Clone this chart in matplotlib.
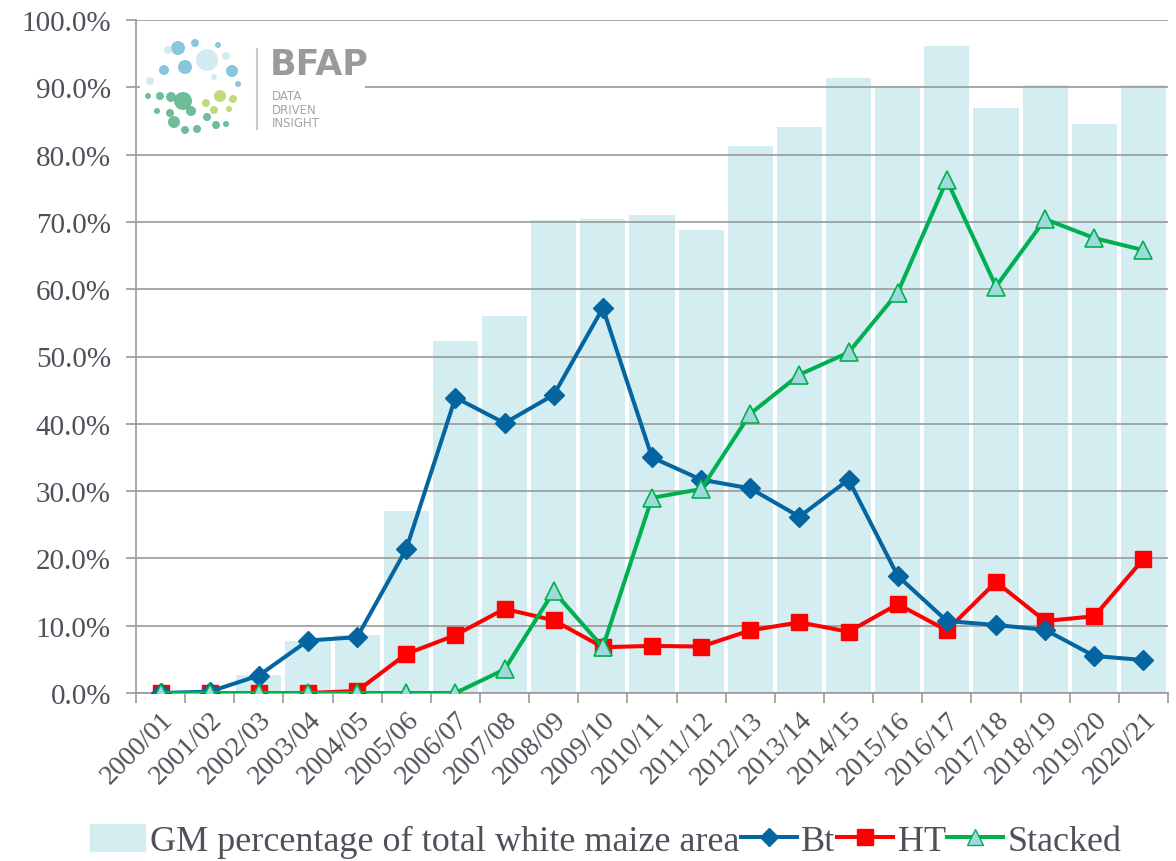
import matplotlib.pyplot as plt
import numpy as np
from matplotlib.lines import Line2D
from matplotlib.patches import Circle, Patch

seasons = ["2000/01", "2001/02", "2002/03", "2003/04", "2004/05", "2005/06", "2006/07",
           "2007/08", "2008/09", "2009/10", "2010/11", "2011/12", "2012/13", "2013/14",
           "2014/15", "2015/16", "2016/17", "2017/18", "2018/19", "2019/20", "2020/21"]
gm_total = [0.0, 0.3, 2.7, 7.7, 8.6, 27.0, 52.3, 56.0, 70.3, 70.4, 71.0, 68.8, 81.3,
            84.1, 91.4, 90.0, 96.1, 86.9, 90.3, 84.5, 90.3]
bt = [0.0, 0.2, 2.6, 7.8, 8.3, 21.4, 43.9, 40.1, 44.3, 57.2, 35.0, 31.7, 30.4, 26.2,
      31.7, 17.4, 10.7, 10.1, 9.4, 5.5, 4.9]
ht = [0.0, 0.0, 0.0, 0.0, 0.3, 5.8, 8.6, 12.5, 10.8, 6.8, 7.0, 6.9, 9.3, 10.5, 9.1,
      13.2, 9.3, 16.5, 10.7, 11.4, 19.9]
stacked = [0.0, 0.0, 0.0, 0.0, 0.0, 0.0, 0.0, 3.5, 15.1, 6.8, 29.0, 30.3, 41.5, 47.3,
           50.6, 59.5, 76.2, 60.4, 70.4, 67.6, 65.8]
y_ticks = np.arange(0, 101, 10)

TXT = "#50505a"
GRID = "#999999"
BAR = "#d4edf1"
BT_C = "#0565a0"
HT_C = "#ff0000"
ST_C = "#00b050"
ST_FACE = "#9fdada"

plt.rcParams["font.family"] = ["Liberation Serif", "DejaVu Serif"]

W, H = 1176, 862
fig = plt.figure(figsize=(W / 100, H / 100), dpi=100)
ax = fig.add_axes([136 / W, 1 - 694 / H, (1168 - 136) / W, (694 - 21) / H])

x = np.arange(len(seasons))
ax.bar(x, gm_total, width=0.92, color=BAR, zorder=1)
ax.set_axisbelow(False)
ax.yaxis.grid(True, color=GRID, linewidth=1.2, zorder=1.5)

ax.plot(x, bt, color=BT_C, lw=2.9, marker="D", ms=10, mec=BT_C, mfc=BT_C, zorder=4)
ax.plot(x, ht, color=HT_C, lw=2.9, marker="s", ms=12, mec=HT_C, mfc=HT_C, zorder=3)
ax.plot(x, stacked, color=ST_C, lw=2.9, marker="^", ms=13, mec=ST_C, mfc=ST_FACE,
        mew=1.2, zorder=5)

ax.set_xlim(-0.5, len(seasons) - 0.5)
ax.set_ylim(0, 100)
ax.set_yticks(y_ticks)
ax.set_yticklabels([f"{v:.1f}%" for v in y_ticks], fontsize=21, color=TXT)
ax.set_xticks(x)
ax.set_xticklabels(seasons, rotation=45, ha="right", rotation_mode="anchor",
                   fontsize=20, color=TXT)
ax.set_xticks(np.arange(-0.5, len(seasons), 1), minor=True)
ax.tick_params(axis="x", which="major", length=0, pad=10)
ax.tick_params(axis="x", which="minor", length=7, width=1.2, color=GRID, direction="out")
ax.tick_params(axis="y", length=7, width=1.2, color=GRID, direction="out", pad=11)
for side in ["top", "right"]:
    ax.spines[side].set_visible(False)
for side in ["left", "bottom"]:
    ax.spines[side].set_color(GRID)
    ax.spines[side].set_linewidth(1.2)

handles = [
    Patch(facecolor=BAR, edgecolor=BAR),
    Line2D([], [], color=BT_C, lw=2.9, marker="D", ms=9),
    Line2D([], [], color=HT_C, lw=2.9, marker="s", ms=11),
    Line2D([], [], color=ST_C, lw=2.9, marker="^", ms=12, mfc=ST_FACE, mec=ST_C),
]
labels = ["GM percentage of total white maize area", "Bt", "HT", "Stacked"]
fig.legend(handles, labels, loc="center", bbox_to_anchor=(0.515, 1 - 842 / H), ncol=4,
           frameon=False, fontsize=26, handlelength=1.55, handleheight=0.75,
           handletextpad=0.12, columnspacing=0.05, labelcolor=TXT, borderaxespad=0)

# BFAP logo
lx0, ly0, lx1, ly1 = 140, 32, 365, 142
lax = fig.add_axes([lx0 / W, 1 - ly1 / H, (lx1 - lx0) / W, (ly1 - ly0) / H])
lax.set_xlim(lx0, lx1)
lax.set_ylim(ly1, ly0)
lax.set_facecolor("white")
lax.set_xticks([])
lax.set_yticks([])
for s in lax.spines.values():
    s.set_visible(False)
blue, lblue, green, ygreen = "#7dbfdc", "#cfe8f0", "#5fb58e", "#b8d86e"
dots = [
    (178, 49, 7, blue), (195, 44, 4, blue), (207, 61, 11, lblue), (185, 68, 7, blue),
    (164, 71, 5, blue), (226, 57, 4, lblue), (232, 72, 6, blue), (150, 82, 4, lblue),
    (238, 85, 3, blue), (214, 78, 3, lblue), (168, 51, 4, lblue), (218, 46, 3, blue),
    (148, 97, 3, green), (160, 97, 4, green), (171, 98, 5, green), (183, 102, 9, green),
    (170, 114, 4, green), (191, 112, 5, green), (174, 123, 6, green), (185, 131, 4, green),
    (197, 130, 4, green), (207, 118, 4, green), (216, 126, 4, green), (226, 125, 3, green),
    (220, 97, 6, ygreen), (206, 104, 4, ygreen), (233, 100, 4, ygreen),
    (214, 111, 4, ygreen), (229, 110, 3, ygreen), (157, 112, 3, green),
]
for cx, cy, r, c in dots:
    lax.add_patch(Circle((cx, cy), r, color=c, alpha=0.9, lw=0))
lax.plot([257, 257], [50, 130], color="#c8c8c8", lw=1.5)
lax.text(270, 65, "BFAP", fontsize=25, fontweight="bold", color="#9a9a9a",
         family="DejaVu Sans", va="center", ha="left")
lax.text(272, 110, "DATA\nDRIVEN\nINSIGHT", fontsize=8.5, color="#a5a5a5",
         family="DejaVu Sans", va="center", ha="left", linespacing=1.05)

fig.savefig("out.png", dpi=100)
